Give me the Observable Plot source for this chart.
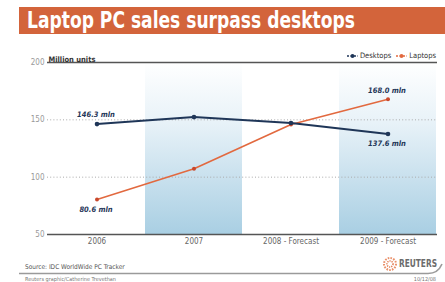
<!DOCTYPE html>
<html><head><meta charset="utf-8">
<script src="https://cdn.jsdelivr.net/npm/d3@7"></script>
<script src="https://cdn.jsdelivr.net/npm/@observablehq/plot@0.6"></script>
<style>
body{margin:0;background:#fff;}
#wrap{position:relative;width:445px;height:282px;overflow:hidden;font-family:"Liberation Sans Narrow","DejaVu Sans Condensed","Liberation Sans",sans-serif;background:#fff;}
#title{position:absolute;left:19px;top:7px;width:426px;height:27px;background:#d3643b;}
#title span{position:absolute;left:8px;top:0px;color:#fff;font-weight:bold;font-size:23px;line-height:27px;white-space:nowrap;transform-origin:0 50%;}
#chart{position:absolute;left:0;top:40px;}
#legend{position:absolute;right:9px;top:51px;font-size:7.5px;color:#333;white-space:nowrap;}
#legend span{margin-left:5px;}
#legend svg{vertical-align:middle;margin-right:2px;}
#source{position:absolute;left:25px;top:263px;font-size:6.5px;color:#555;}
#credit{position:absolute;left:25px;top:276px;font-size:5.5px;color:#777;}
#date{position:absolute;right:9px;top:276px;font-size:5.5px;color:#777;}
#reuters{position:absolute;left:399px;top:258px;font-size:10px;line-height:12px;font-weight:bold;color:#6b6b6b;white-space:nowrap;transform-origin:0 50%;font-family:"DejaVu Sans Condensed","Liberation Sans",sans-serif;}
#deco{position:absolute;left:0;top:0;}
</style></head>
<body>
<div id="wrap">
  <div id="title"><span id="ttext">Laptop PC sales surpass desktops</span></div>
  <div id="chart"></div>
  <div id="legend"></div>
  <div id="source">Source: IDC WorldWide PC Tracker</div>
  <div id="credit">Reuters graphic/Catherine Trevethan</div>
  <div id="date">10/12/08</div>
  <div id="reuters">REUTERS</div>
  <svg id="deco" width="445" height="282"></svg>
</div>
<script>
const years = ["2006", "2007", "2008 - Forecast", "2009 - Forecast"];
const desktops = [146.3, 152.4, 147.2, 137.6];
const laptops = [80.6, 107.4, 146.0, 168.0];
const shadedYears = ["2007", "2009 - Forecast"];
const yTicks = [50, 100, 150, 200];
const dottedGrid = [100, 150];
const solidGrid = [50, 200];
const seriesNames = ["Desktops", "Laptops"];
const seriesColors = ["#1f3658", "#e2693f"];
const labelsAbove = [{year: "2006", v: 146.3, t: "146.3 mln"}, {year: "2009 - Forecast", v: 168.0, t: "168.0 mln"}];
const labelsBelow = [{year: "2006", v: 80.6, t: "80.6 mln"}, {year: "2009 - Forecast", v: 137.6, t: "137.6 mln"}];

const dRows = years.map((y, i) => ({year: y, v: desktops[i]}));
const lRows = years.map((y, i) => ({year: y, v: laptops[i]}));

const gradientDefs = () => {
  const defs = d3.create("svg:defs");
  const g = defs.append("linearGradient").attr("id", "bandgrad").attr("x1", 0).attr("x2", 0).attr("y1", 0).attr("y2", 1);
  g.append("stop").attr("offset", "0%").attr("stop-color", "#ffffff");
  g.append("stop").attr("offset", "35%").attr("stop-color", "#e8f2f8");
  g.append("stop").attr("offset", "100%").attr("stop-color", "#a9cfe3");
  return defs.node();
};

const font = '"Liberation Sans Narrow","DejaVu Sans Condensed","Liberation Sans",sans-serif';

const plot = Plot.plot({
  width: 445,
  height: 215,
  marginLeft: 47,
  marginRight: 8,
  marginTop: 22,
  marginBottom: 21,
  style: {fontFamily: font, fontSize: "8px", color: "#777", background: "transparent", overflow: "visible"},
  x: {type: "band", domain: years, padding: 0, label: null, tickSize: 0, tickPadding: 4},
  y: {domain: [50, 200], ticks: yTicks, label: null, tickSize: 0, tickPadding: 3},
  marks: [
    gradientDefs,
    Plot.barY(shadedYears, {x: d => d, y1: 50, y2: 200, fill: "url(#bandgrad)"}),
    Plot.ruleY(dottedGrid, {stroke: "#aaa", strokeWidth: 1, strokeDasharray: "1,2.2"}),
    Plot.ruleY(solidGrid, {stroke: "#555", strokeWidth: 1.5}),
    Plot.axisX({tickSize: 0, tickPadding: 4, fill: "#666"}),
    Plot.axisY({ticks: yTicks, tickSize: 0, tickPadding: 3, fill: "#999"}),
    Plot.line(lRows, {x: "year", y: "v", stroke: seriesColors[1], strokeWidth: 1.6}),
    Plot.dot(lRows, {x: "year", y: "v", r: 2, fill: "#c9482c"}),
    Plot.line(dRows, {x: "year", y: "v", stroke: seriesColors[0], strokeWidth: 2}),
    Plot.dot(dRows, {x: "year", y: "v", r: 2.3, fill: seriesColors[0]}),
    Plot.text(labelsAbove, {x: "year", y: "v", text: "t", dy: -9, dx: -1, fill: "#1f3658", fontSize: 7.5, fontStyle: "italic", fontWeight: "bold"}),
    Plot.text(labelsBelow, {x: "year", y: "v", text: "t", dy: 10, dx: -1, fill: "#1f3658", fontSize: 7.5, fontStyle: "italic", fontWeight: "bold"}),
    Plot.text(["Million units"], {frameAnchor: "top-left", dy: -6, dx: 1, textAnchor: "start", fill: "#333", fontSize: 7.5, fontWeight: "bold"})
  ]
});
document.getElementById("chart").appendChild(plot);

// legend
const legend = d3.select("#legend");
seriesNames.forEach((name, i) => {
  const s = legend.append("span");
  const svg = s.append("svg").attr("width", 11).attr("height", 6);
  svg.append("line").attr("x1", 0).attr("x2", 11).attr("y1", 3).attr("y2", 3).attr("stroke", seriesColors[i]).attr("stroke-width", 1.3).attr("stroke-dasharray", "2,1.5");
  svg.append("circle").attr("cx", 5.5).attr("cy", 3).attr("r", 2).attr("fill", seriesColors[i]);
  s.append("text").text(name);
});

// fit title and logo text widths
function fitWidth(id, target) {
  const el = document.getElementById(id);
  const w = el.getBoundingClientRect().width;
  el.style.transform = `scaleX(${target / w})`;
}
fitWidth("ttext", 328);
fitWidth("reuters", 38);

// footer decoration
const deco = d3.select("#deco");
deco.append("path").attr("d", "M19,273.5 H428 Q438,273.5 442,264").attr("fill", "none").attr("stroke", "#9a9a9a").attr("stroke-width", 1.6);
const lg = deco.append("g").attr("transform", "translate(390,264)");
lg.append("circle").attr("r", 6).attr("fill", "none").attr("stroke", "#e9906a").attr("stroke-width", 2).attr("stroke-dasharray", "1.6,1.2");
lg.append("circle").attr("r", 3).attr("fill", "none").attr("stroke", "#e27a4f").attr("stroke-width", 1.5).attr("stroke-dasharray", "1.2,1");
</script>
</body></html>
